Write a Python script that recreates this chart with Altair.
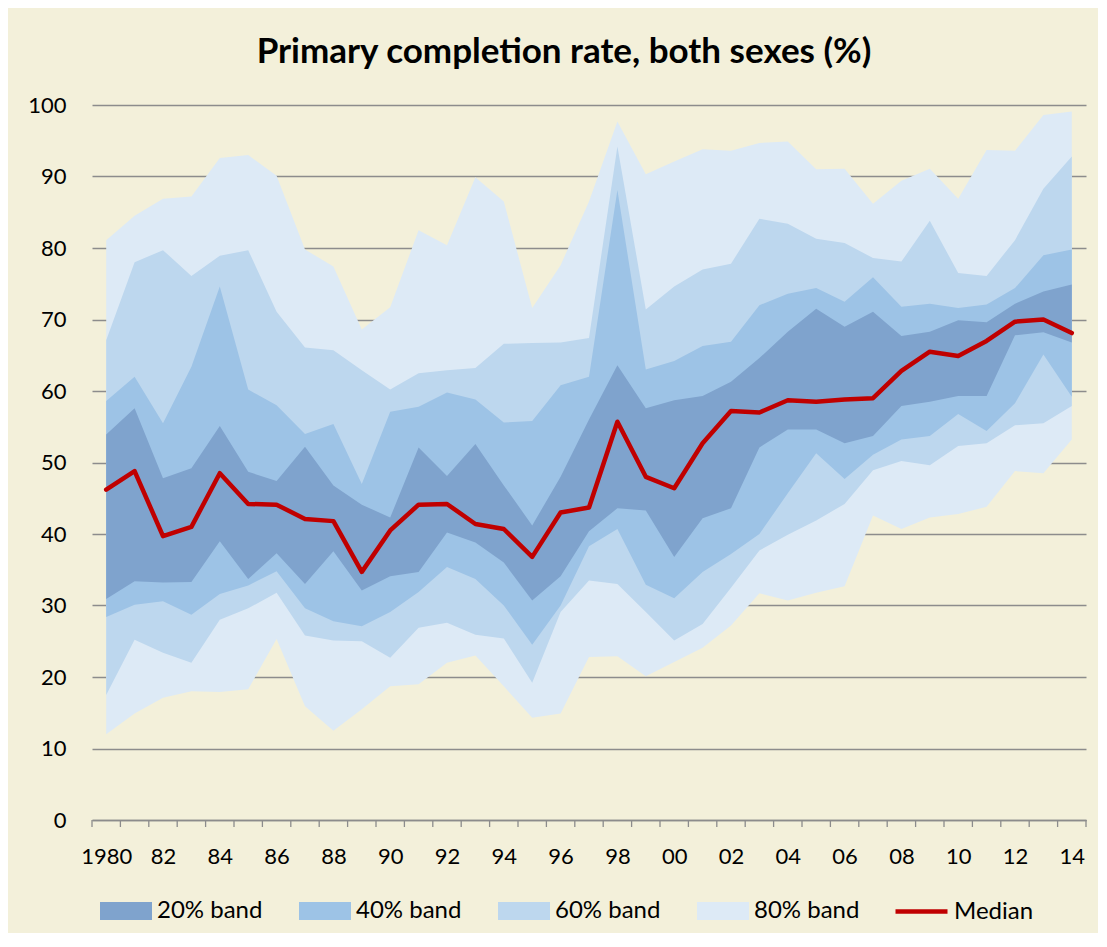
import altair as alt
import pandas as pd

years = list(range(1980, 2015))

p90 = [81.1, 84.5, 86.9, 87.2, 92.6, 93.0, 90.1, 79.8, 77.4, 68.6,
       71.7, 82.5, 80.4, 89.9, 86.5, 71.6, 77.6, 86.5, 97.7, 90.3,
       92.1, 93.8, 93.6, 94.7, 94.9, 91.0, 91.1, 86.2, 89.4, 91.1,
       86.9, 93.7, 93.6, 98.6, 99.1]
p80 = [67.1, 78.0, 79.7, 76.1, 78.9, 79.7, 71.1, 66.1, 65.7, 62.9,
       60.2, 62.5, 62.9, 63.2, 66.6, 66.7, 66.8, 67.4, 94.2, 71.4,
       74.6, 77.0, 77.8, 84.1, 83.4, 81.3, 80.7, 78.6, 78.1, 83.8,
       76.5, 76.1, 81.1, 88.3, 92.8]
p70 = [58.6, 62.0, 55.5, 63.4, 74.6, 60.2, 58.0, 54.0, 55.4, 47.0,
       57.1, 57.8, 59.8, 58.8, 55.6, 55.8, 60.8, 62.0, 88.1, 63.0,
       64.2, 66.3, 66.9, 72.0, 73.6, 74.4, 72.5, 75.9, 71.8, 72.2,
       71.6, 72.1, 74.4, 79.0, 79.8]
p60 = [53.9, 57.6, 47.8, 49.2, 55.1, 48.7, 47.4, 52.2, 46.8, 44.1,
       42.3, 52.1, 48.1, 52.6, 46.8, 41.2, 48.0, 56.0, 63.6, 57.6,
       58.7, 59.3, 61.3, 64.6, 68.3, 71.5, 69.0, 71.1, 67.7, 68.3,
       69.9, 69.6, 72.2, 73.9, 74.9]
median = [46.2, 48.8, 39.7, 41.0, 48.5, 44.2, 44.1, 42.1, 41.8, 34.7,
          40.5, 44.1, 44.2, 41.4, 40.7, 36.8, 43.0, 43.7, 55.7, 48.0,
          46.4, 52.7, 57.2, 57.0, 58.7, 58.5, 58.8, 59.0, 62.8, 65.5,
          64.9, 67.0, 69.7, 70.0, 68.1]
p40 = [30.9, 33.4, 33.2, 33.3, 39.0, 33.7, 37.3, 33.0, 37.6, 32.1,
       34.1, 34.7, 40.2, 38.8, 36.0, 30.7, 34.1, 40.4, 43.6, 43.3,
       36.8, 42.2, 43.6, 52.1, 54.6, 54.6, 52.7, 53.7, 57.9, 58.5,
       59.3, 59.3, 67.8, 68.2, 66.8]
p30 = [28.4, 30.1, 30.6, 28.7, 31.6, 32.8, 34.8, 29.6, 27.8, 27.1,
       29.1, 31.9, 35.4, 33.7, 30.0, 24.5, 30.0, 38.3, 40.7, 32.9,
       31.0, 34.7, 37.2, 40.0, 45.7, 51.3, 47.7, 51.1, 53.2, 53.7,
       56.8, 54.4, 58.3, 65.1, 59.2]
p20 = [17.5, 25.2, 23.4, 22.0, 28.0, 29.6, 31.8, 25.8, 25.1, 25.0,
       22.7, 26.9, 27.6, 25.9, 25.4, 19.2, 29.1, 33.5, 33.0, 29.1,
       25.1, 27.4, 32.5, 37.7, 39.9, 41.9, 44.2, 48.9, 50.2, 49.6,
       52.3, 52.7, 55.2, 55.5, 57.9]
p10 = [12.0, 14.9, 17.1, 18.0, 17.9, 18.3, 25.3, 15.9, 12.5, 15.5,
       18.7, 19.0, 22.0, 23.0, 18.7, 14.3, 14.9, 22.8, 22.9, 20.1,
       22.1, 24.1, 27.2, 31.7, 30.7, 31.8, 32.7, 42.6, 40.7, 42.3,
       42.8, 43.8, 48.8, 48.5, 53.2]

band_names = ["20% band", "40% band", "60% band", "80% band"]
band_colors = ["#7FA3CD", "#9DC3E6", "#BDD7EE", "#DDEAF6"]
band_bounds = {"20% band": (p40, p60), "40% band": (p30, p70),
               "60% band": (p20, p80), "80% band": (p10, p90)}
even_years = [y for y in years if y % 2 == 0]
boundaries = [y - 0.5 for y in years] + [years[-1] + 0.5]

FONT = "Lato"
W, H = 994, 715

xscale = alt.Scale(domain=[years[0] - 0.5, years[-1] + 0.5], nice=False, zero=False)
xaxis = alt.Axis(values=even_years, title=None, grid=False, ticks=False, tickSize=0,
                 labelExpr="datum.value == 1980 ? '1980' : substring(toString(datum.value), 2, 4)",
                 labelFont=FONT, labelFontSize=22, labelColor="black",
                 labelBaseline="alphabetic", labelPadding=43,
                 domainColor="#8C8C8C", domainWidth=1.3, labelFlush=False, labelOverlap=False)
yscale = alt.Scale(domain=[0, 100], nice=False, zero=True)
yaxis = alt.Axis(values=list(range(0, 101, 10)), title=None, grid=True, gridColor="#8C8C8C",
                 gridWidth=1.3, domain=False, ticks=False, tickSize=0,
                 labelFont=FONT, labelFontSize=22, labelColor="black", labelPadding=26)

color = alt.Color("band:N",
                  scale=alt.Scale(domain=band_names, range=band_colors),
                  legend=alt.Legend(orient="none", legendX=8, legendY=780, direction="horizontal",
                                    columns=4, gridAlign="all", columnPadding=36, title=None,
                                    labelFont=FONT, labelFontSize=24, labelColor="black",
                                    labelOffset=5, symbolType="M-1,-0.35H1V0.35H-1Z",
                                    symbolSize=2704, symbolStrokeWidth=0, symbolOpacity=1))

layers = []
for name in ["80% band", "60% band", "40% band", "20% band"]:
    lo, hi = band_bounds[name]
    df = pd.DataFrame({"year": years, "lo": lo, "hi": hi, "band": name})
    layers.append(
        alt.Chart(df).mark_area(opacity=1, interpolate="linear").encode(
            x=alt.X("year:Q", scale=xscale, axis=xaxis),
            y=alt.Y("lo:Q", scale=yscale, axis=yaxis),
            y2="hi:Q",
            color=color,
        )
    )

tick_df = pd.DataFrame({"year": boundaries})
ticks = alt.Chart(tick_df).mark_rule(color="#8C8C8C", strokeWidth=1.3).encode(
    x=alt.X("year:Q", scale=xscale, axis=xaxis),
    y=alt.value(H),
    y2=alt.value(H + 7),
)

med_df = pd.DataFrame({"year": years, "value": median, "series": "Median"})
med = alt.Chart(med_df).mark_line(strokeWidth=4.5, strokeJoin="round", strokeCap="round").encode(
    x=alt.X("year:Q", scale=xscale, axis=xaxis),
    y=alt.Y("value:Q", scale=yscale, axis=yaxis),
    stroke=alt.Stroke("series:N", scale=alt.Scale(domain=["Median"], range=["#C00000"]),
                      legend=alt.Legend(orient="none", legendX=801, legendY=778, title=None,
                                        labelFont=FONT, labelFontSize=24, labelColor="black",
                                        labelOffset=4, symbolType="stroke", symbolSize=2704,
                                        symbolStrokeWidth=4.5)),
)

chart = alt.layer(*layers, ticks, med).properties(
    width=W, height=H,
    title=alt.TitleParams("Primary completion rate, both sexes (%)", font=FONT, fontSize=35,
                          fontWeight="bold", color="black", anchor="middle", frame="group",
                          baseline="alphabetic", offset=0, dx=-25, dy=4),
    autosize=alt.AutoSizeParams(type="none"),
    padding={"left": 84, "top": 97, "right": 12, "bottom": 113},
    background="#F3F0DA",
).configure_view(stroke=None)

chart.save("out.html", embed_options={"renderer": "svg", "actions": False})
